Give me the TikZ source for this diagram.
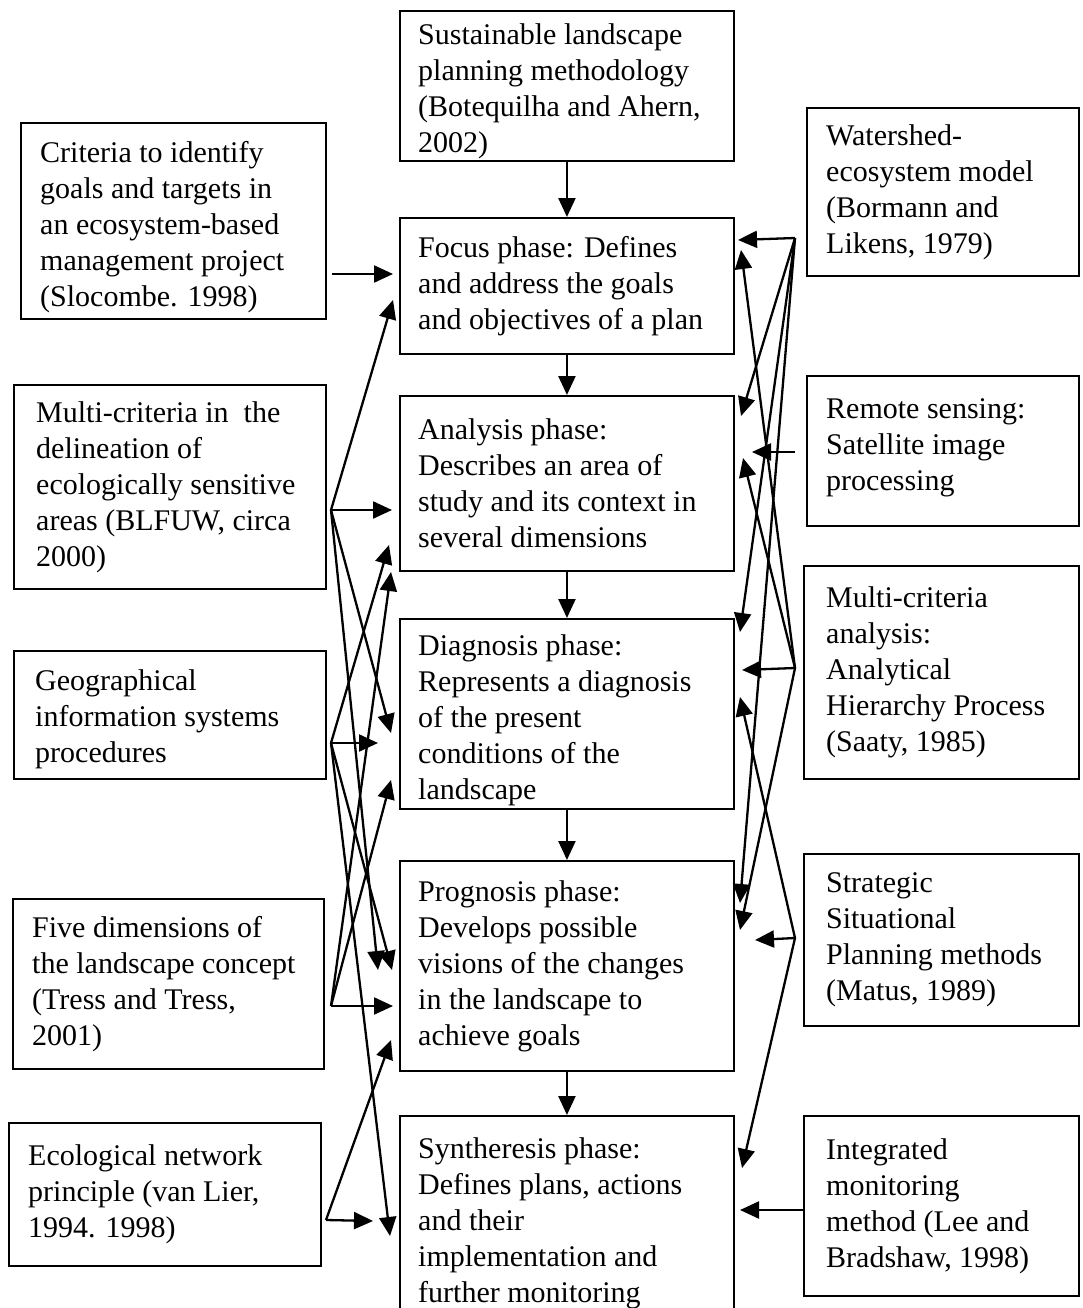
\documentclass[tikz,border=0pt]{standalone}
\usepackage{fontspec}
\setmainfont{Liberation Serif}
\usetikzlibrary{arrows.meta}

\begin{document}
\begin{tikzpicture}[x=1pt, y=-1pt,
  box/.style={draw, line width=1.9pt, rectangle, inner sep=0pt, anchor=north west},
  txt/.style={align=left, inner sep=0pt, anchor=west, font=\fontsize{30}{36}\selectfont},
  arr/.style={line width=2.3pt, -{Triangle[length=19pt,width=17pt]}}
]
\clip (0,0) rectangle (1082,1308);
\fill[white] (0,0) rectangle (1082,1308);

% ---- central column: planning phases ----
\node[box, minimum width=334pt, minimum height=150pt] (top)   at (399,10)  {};
\node[box, minimum width=334pt, minimum height=136pt] (focus) at (399,217) {};
\node[box, minimum width=334pt, minimum height=175pt] (anal)  at (399,395) {};
\node[box, minimum width=334pt, minimum height=190pt] (diag)  at (399,618) {};
\node[box, minimum width=334pt, minimum height=210pt] (prog)  at (399,860) {};
\node[box, minimum width=334pt, minimum height=215pt] (synth) at (399,1115) {};

\node[txt] (top-t)   at ([xshift=19pt,yshift=-5pt]top.west)   {Sustainable landscape\\planning methodology\\(Botequilha and Ahern,\\2002)};
\node[txt] (focus-t) at ([xshift=19pt]focus.west) {Focus phase: Defines\\and address the goals\\and objectives of a plan};
\node[txt] (anal-t)  at ([xshift=19pt]anal.west)  {Analysis phase:\\Describes an area of\\study and its context in\\several dimensions};
\node[txt] (diag-t)  at ([xshift=19pt,yshift=-6pt]diag.west)  {Diagnosis phase:\\Represents a diagnosis\\of the present\\conditions of the\\landscape};
\node[txt] (prog-t)  at ([xshift=19pt]prog.west)  {Prognosis phase:\\Develops possible\\visions of the changes\\in the landscape to\\achieve goals};
\node[txt] (synth-t) at ([xshift=19pt]synth.west) {Syntheresis phase:\\Defines plans, actions\\and their\\implementation and\\further monitoring};

% ---- left column: sources ----
\node[box, minimum width=305pt, minimum height=196pt] (crit)  at (20,122)  {};
\node[box, minimum width=312pt, minimum height=204pt] (multi) at (13,384)  {};
\node[box, minimum width=312pt, minimum height=128pt] (geo)   at (13,650)  {};
\node[box, minimum width=311pt, minimum height=170pt] (five)  at (12,898)  {};
\node[box, minimum width=312pt, minimum height=143pt] (eco)   at (8,1122)  {};

\node[txt] (crit-t)  at ([xshift=20pt,yshift=-6pt]crit.west)  {Criteria to identify\\goals and targets in\\an ecosystem-based\\management project\\(Slocombe. 1998)};
\node[txt] (multi-t) at ([xshift=23pt]multi.west) {Multi-criteria in\ \ the\\delineation of\\ecologically sensitive\\areas (BLFUW, circa\\2000)};
\node[txt] (geo-t)   at ([xshift=22pt,yshift=-4pt]geo.west)   {Geographical\\information systems\\procedures};
\node[txt] (five-t)  at ([xshift=20pt]five.west)  {Five dimensions of\\the landscape concept\\(Tress and Tress,\\2001)};
\node[txt] (eco-t)   at ([xshift=20pt]eco.west)   {Ecological network\\principle (van Lier,\\1994. 1998)};

% ---- right column: sources ----
\node[box, minimum width=272pt, minimum height=168pt] (water)  at (806,107)  {};
\node[box, minimum width=272pt, minimum height=150pt] (remote) at (806,375)  {};
\node[box, minimum width=275pt, minimum height=213pt] (mca)    at (803,565)  {};
\node[box, minimum width=275pt, minimum height=172pt] (strat)  at (803,853)  {};
\node[box, minimum width=275pt, minimum height=180pt] (integ)  at (803,1115) {};

\node[txt] (water-t)  at ([xshift=20pt]water.west)  {Watershed-\\ecosystem model\\(Bormann and\\Likens, 1979)};
\node[txt] (remote-t) at ([xshift=20pt,yshift=3pt]remote.west) {Remote sensing:\\Satellite image\\processing};
\node[txt] (mca-t)    at ([xshift=23pt]mca.west)    {Multi-criteria\\analysis:\\Analytical\\Hierarchy Process\\(Saaty, 1985)};
\node[txt] (strat-t)  at ([xshift=23pt]strat.west)  {Strategic\\Situational\\Planning methods\\(Matus, 1989)};
\node[txt] (integ-t)  at ([xshift=23pt]integ.west)  {Integrated\\monitoring\\method (Lee and\\Bradshaw, 1998)};

% ---- sequence of phases ----
\draw[arr] (top.south)   -- (focus.north);
\draw[arr] (focus.south) -- (anal.north);
\draw[arr] (anal.south)  -- (diag.north);
\draw[arr] (diag.south)  -- (prog.north);
\draw[arr] (prog.south)  -- (synth.north);

% ---- fan-out points beside the source boxes ----
\coordinate (L1) at (332,274);
\coordinate (L2) at (331,510);
\coordinate (L3) at (331,743);
\coordinate (L4) at (331,1006);
\coordinate (L5) at (326,1220);
\coordinate (R1) at (795,238);
\coordinate (R2) at (795,452);
\coordinate (R3) at (795,668);
\coordinate (R4) at (795,938);
\coordinate (R5) at (803,1210);

% ---- entry points on the phase boxes, left side ----
\coordinate (fo-a) at (393,274);
\coordinate (fo-b) at (393,300);
\coordinate (an-a) at (392,510);
\coordinate (an-b) at (389,545);
\coordinate (an-c) at (391,572);
\coordinate (di-a) at (391,733);
\coordinate (di-b) at (378,743);
\coordinate (di-c) at (391,780);
\coordinate (pr-a) at (378,970);
\coordinate (pr-b) at (392,970);
\coordinate (pr-c) at (393,1006);
\coordinate (pr-d) at (391,1040);
\coordinate (sy-a) at (373,1221);
\coordinate (sy-b) at (390,1236);

% ---- entry points on the phase boxes, right side ----
\coordinate (fo-r) at (738,240);
\coordinate (fo-s) at (741,250);
\coordinate (an-r) at (741,416);
\coordinate (an-s) at (752,452);
\coordinate (an-t) at (743,458);
\coordinate (di-r) at (740,632);
\coordinate (di-s) at (742,670);
\coordinate (di-t) at (740,697);
\coordinate (pr-r) at (740,903);
\coordinate (pr-s) at (740,930);
\coordinate (pr-t) at (755,940);
\coordinate (sy-r) at (742,1168);
\coordinate (sy-s) at (740,1210);

% ---- left-hand methods feeding the phases ----
\draw[arr] (L1) -- (fo-a);
\draw[arr] (L2) -- (fo-b);
\draw[arr] (L2) -- (an-a);
\draw[arr] (L2) -- (di-a);
\draw[arr] (L2) -- (pr-a);
\draw[arr] (L3) -- (an-b);
\draw[arr] (L3) -- (di-b);
\draw[arr] (L3) -- (pr-b);
\draw[arr] (L3) -- (sy-b);
\draw[arr] (L4) -- (an-c);
\draw[arr] (L4) -- (di-c);
\draw[arr] (L4) -- (pr-c);
\draw[arr] (L5) -- (pr-d);
\draw[arr] (L5) -- (sy-a);

% ---- right-hand methods feeding the phases ----
\draw[arr] (R1) -- (fo-r);
\draw[arr] (R1) -- (an-r);
\draw[arr] (R1) -- (di-r);
\draw[arr] (R1) -- (pr-r);
\draw[arr] (R2) -- (an-s);
\draw[arr] (R3) -- (fo-s);
\draw[arr] (R3) -- (an-t);
\draw[arr] (R3) -- (di-s);
\draw[arr] (R3) -- (pr-s);
\draw[arr] (R4) -- (di-t);
\draw[arr] (R4) -- (pr-t);
\draw[arr] (R4) -- (sy-r);
\draw[arr] (R5) -- (sy-s);
\end{tikzpicture}
\end{document}
